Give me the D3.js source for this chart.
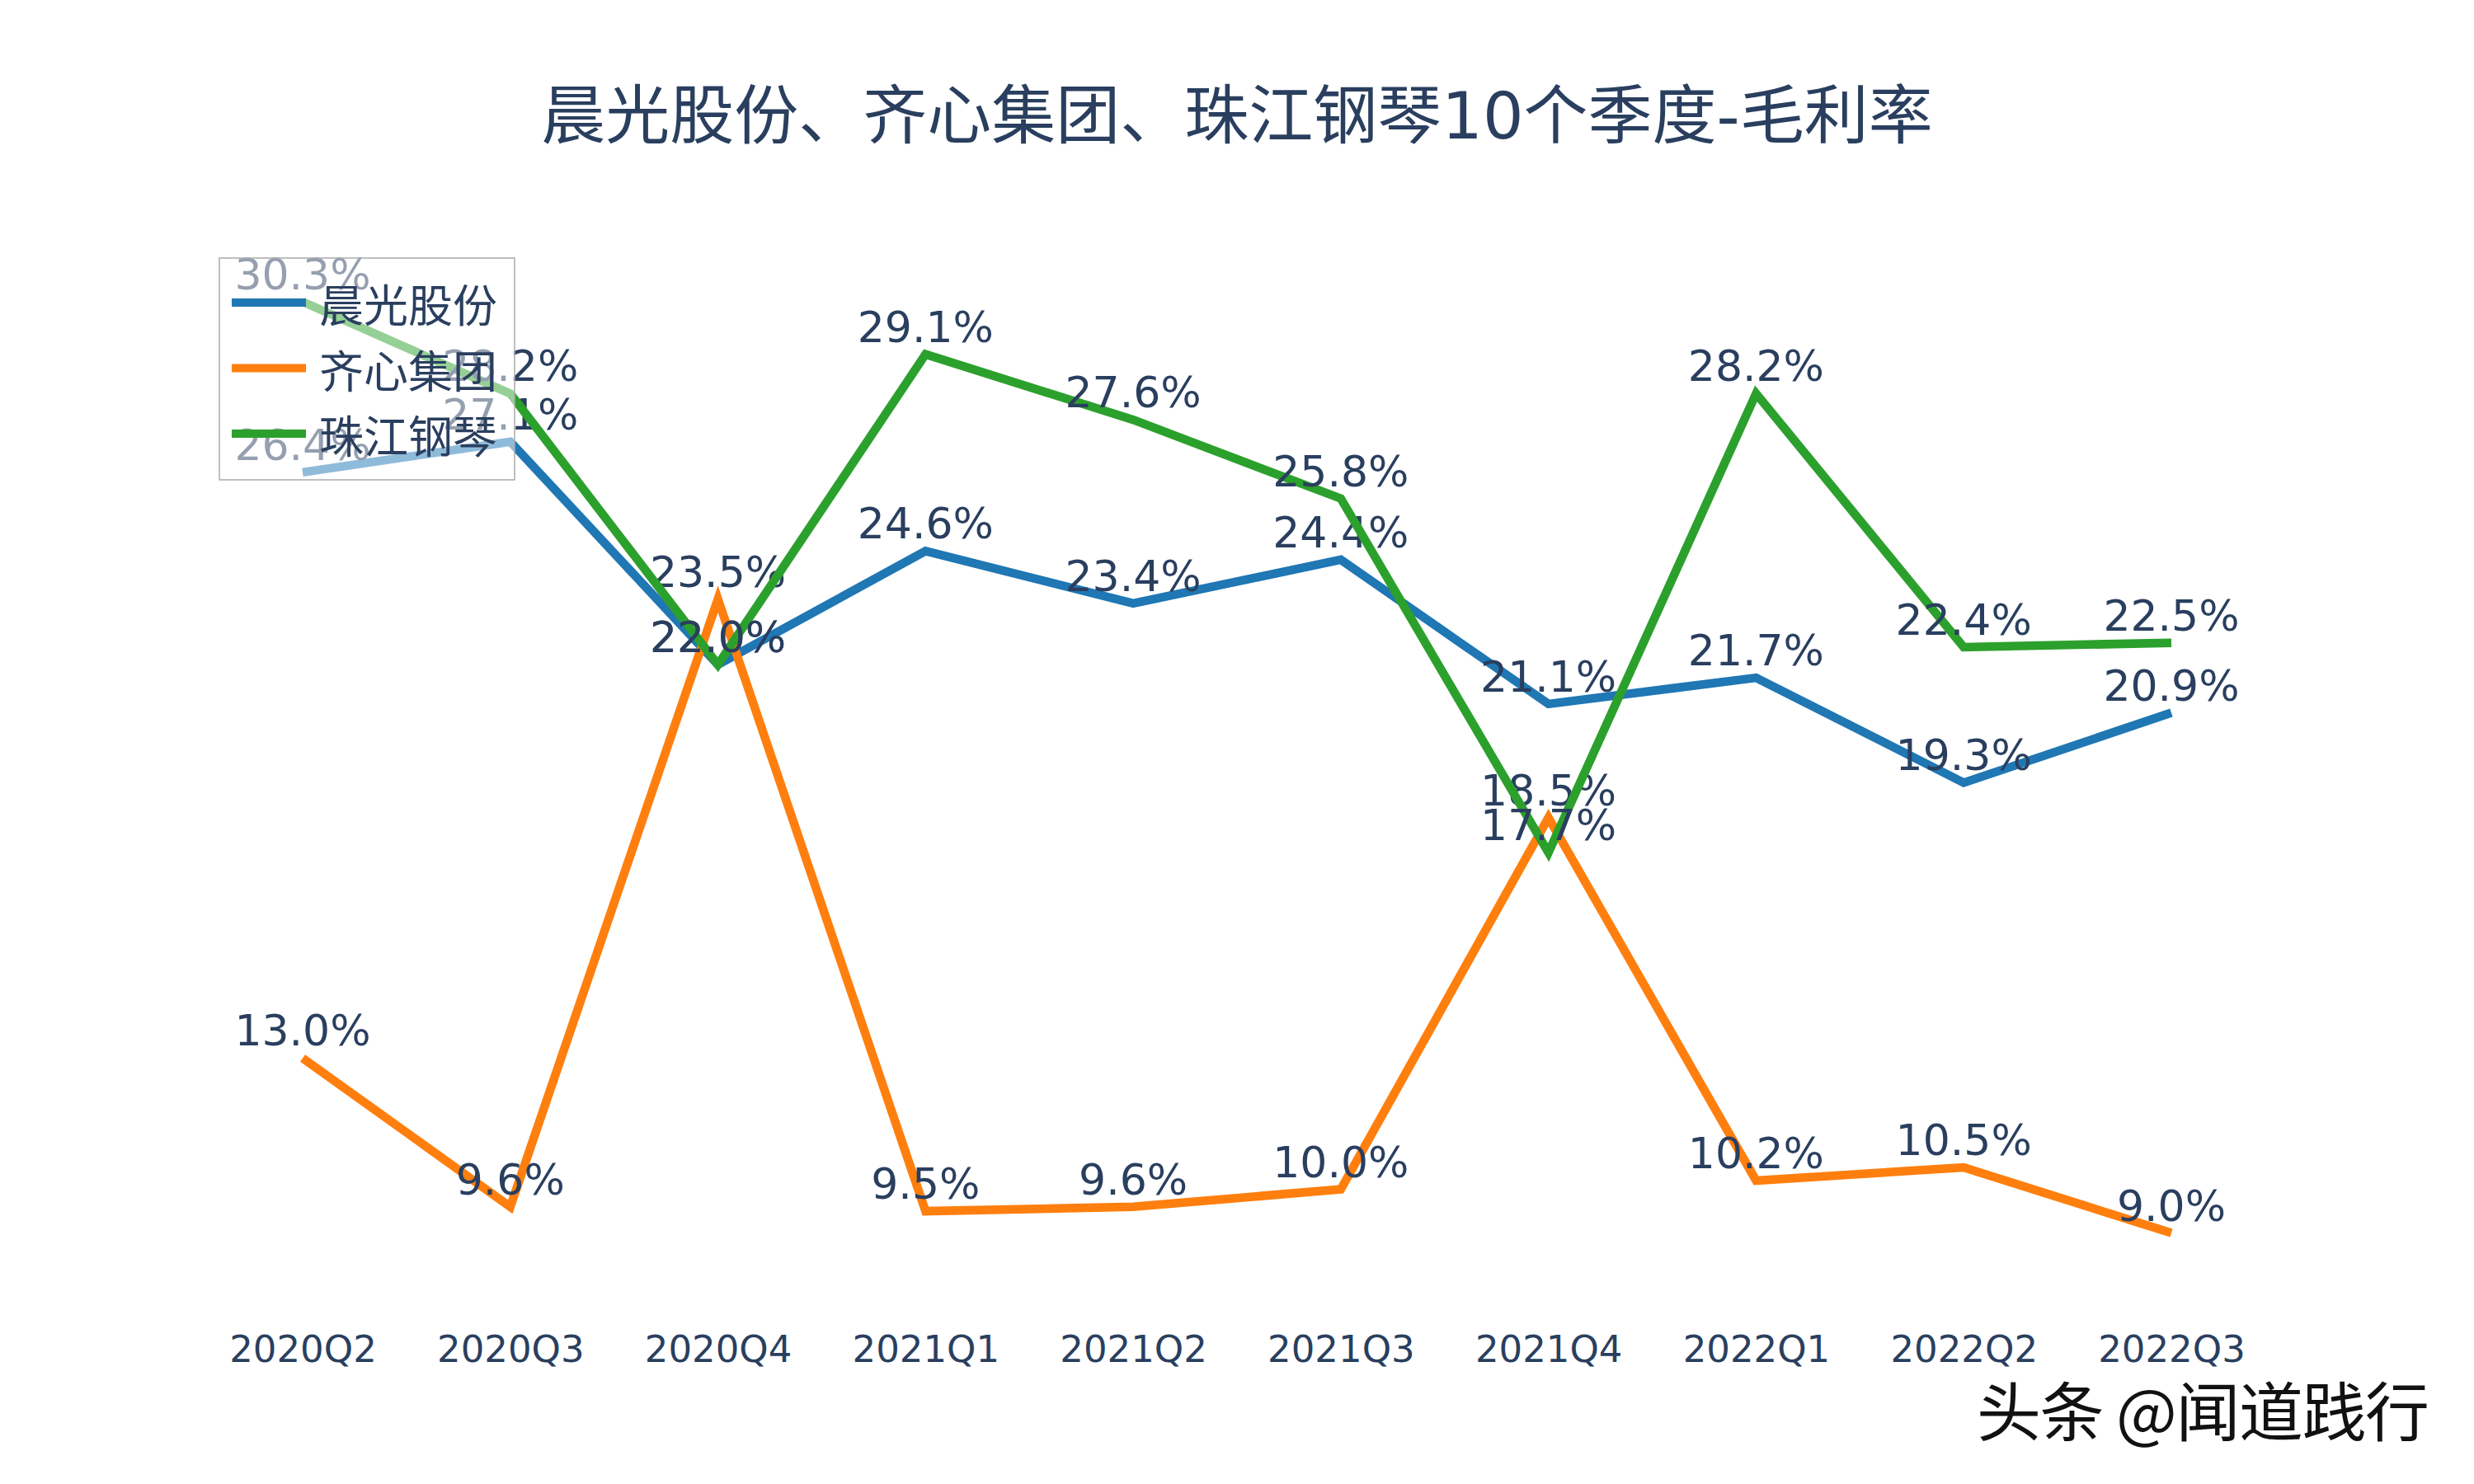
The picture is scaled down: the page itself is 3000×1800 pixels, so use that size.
<!DOCTYPE html>
<html><head><meta charset="utf-8">
<script src="https://cdn.jsdelivr.net/npm/d3@7"></script>
<style>body{margin:0;background:#fff} svg{display:block;background:#fff}</style>
</head><body><svg id="chart" width="3000" height="1800"></svg>
<script>
// ---- data ----
const quarters = ["2020Q2","2020Q3","2020Q4","2021Q1","2021Q2","2021Q3","2021Q4","2022Q1","2022Q2","2022Q3"];
const seriesNames = ["晨光股份","齐心集团","珠江钢琴"];
const chenguang = [26.4,27.1,22.0,24.6,23.4,24.4,21.1,21.7,19.3,20.9];
const qixin     = [13.0,9.6,23.5,9.5,9.6,10.0,18.5,10.2,10.5,9.0];
const zhujiang  = [30.3,28.2,22.0,29.1,27.6,25.8,17.7,28.2,22.4,22.5];
const seriesColors = ["#1f77b4","#ff7f0e","#2ca02c"];
const chartTitle = "晨光股份、齐心集团、珠江钢琴10个季度-毛利率";
const watermark = "头条 @闻道践行";

const series = [chenguang, qixin, zhujiang].map((vals,i)=>({name:seriesNames[i], color:seriesColors[i], values:vals}));

const svg = d3.select("#chart");
const textColor = "#2a3f5f";
const latin = "'DejaVu Sans', Verdana, 'Noto Sans CJK SC', sans-serif";

svg.append("rect").attr("width",3000).attr("height",1800).attr("fill","#fff");

const x = d3.scalePoint().domain(quarters).range([367, 2633]);
const y = d3.scaleLinear().domain([8.2, 31.3]).range([1538, 313]);

// title
svg.append("text")
  .attr("x",1500).attr("y",168)
  .attr("text-anchor","middle")
  .style("font-family",latin).style("font-size","78px")
  .attr("fill",textColor)
  .text(chartTitle);

// x axis (labels only)
const xAxis = d3.axisBottom(x).tickSize(0).tickPadding(82);
const ax = svg.append("g").attr("transform","translate(0,1538)").call(xAxis);
ax.select(".domain").remove();
ax.selectAll("text").style("font-family",latin).style("font-size","45px").attr("fill",textColor);

// traces
const line = d3.line().x((d,i)=>x(quarters[i])).y(d=>y(d));
series.forEach(s=>{
  const g = svg.append("g");
  g.append("path").datum(s.values)
    .attr("d",line).attr("fill","none")
    .attr("stroke",s.color).attr("stroke-width",10.5)
    .attr("stroke-linejoin","miter");
  g.selectAll("text").data(s.values).join("text")
    .attr("x",(d,i)=>x(quarters[i]))
    .attr("y",d=>y(d)-15)
    .attr("text-anchor","middle")
    .style("font-family",latin).style("font-size","52px")
    .attr("fill",textColor)
    .text(d=>d.toFixed(1)+"%");
});

// legend
const lg = svg.append("g");
lg.append("rect").attr("x",266).attr("y",313).attr("width",358).attr("height",269)
  .attr("fill","rgba(255,255,255,0.5)").attr("stroke","#aaaaaa").attr("stroke-width",1.5);
series.forEach((s,i)=>{
  const cy = 367 + i*79.5;
  lg.append("line").attr("x1",281).attr("x2",371).attr("y1",cy).attr("y2",cy)
    .attr("stroke",s.color).attr("stroke-width",10);
  lg.append("text").attr("x",387).attr("y",cy).attr("dy","0.45em")
    .style("font-family","'Noto Sans CJK SC', sans-serif").style("font-size","54px")
    .attr("fill",textColor).text(s.name);
});

// watermark
svg.append("text").attr("x",2946).attr("y",1742).attr("text-anchor","end")
  .attr("textLength",549).attr("lengthAdjust","spacing")
  .style("font-family","'Noto Sans CJK SC', sans-serif").style("font-size","78px")
  .attr("fill","#111").text(watermark);
</script>
</body></html>
